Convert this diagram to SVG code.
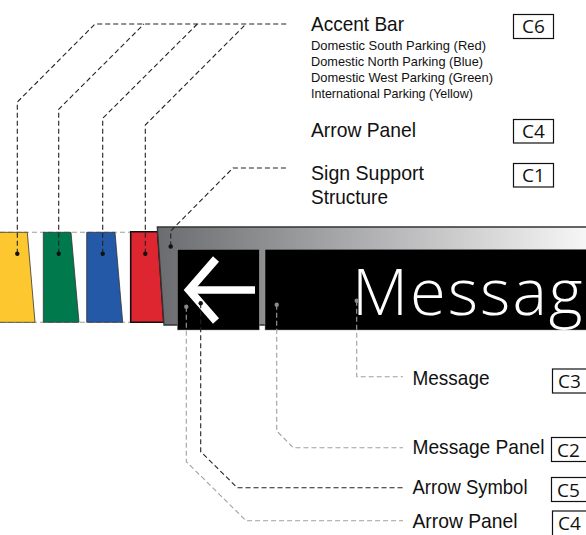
<svg xmlns="http://www.w3.org/2000/svg" width="586" height="535" viewBox="0 0 586 535">
<defs>
<linearGradient id="supGrad" gradientUnits="userSpaceOnUse" x1="157" y1="0" x2="586" y2="0">
<stop offset="0" stop-color="#6b6c6f"/>
<stop offset="1" stop-color="#f6f6f6"/>
</linearGradient>
<style>
.lbl{font-family:"Liberation Sans",Arial,sans-serif;font-size:21px;fill:#111}
.sub{font-family:"Liberation Sans",Arial,sans-serif;font-size:13px;fill:#111}
.code{font-family:"Open Sans","Liberation Sans",sans-serif;font-size:19px;fill:#111}
.box{fill:#fff;stroke:#111;stroke-width:1.2}
.lk{fill:none;stroke:#222;stroke-width:1.1;stroke-dasharray:5 3}
.lg{fill:none;stroke:#a0a0a0;stroke-width:1.1;stroke-dasharray:5 3}
.dk{fill:#111}
.dg{fill:#8a8a8a}
.bar{stroke:#333;stroke-width:0.8}
</style>
</defs>
<rect width="586" height="535" fill="#fff"/>

<g id="bar-guides">
<line x1="0" y1="232.3" x2="158" y2="232.3" class="lg"/>
<line x1="0" y1="322.3" x2="164" y2="322.3" class="lg"/>
</g>

<g id="accent-yellow"><polygon class="bar" fill="#fdc82f" points="-2,232.3 27.3,232.3 35,322.3 -2,322.3"/></g>
<g id="accent-green"><polygon class="bar" fill="#007a4d" points="43.3,232.3 71,232.3 79,322.3 43.3,322.3"/></g>
<g id="accent-blue"><polygon class="bar" fill="#2459a8" points="86.7,232.3 115,232.3 122.7,322.3 86.7,322.3"/></g>
<g id="accent-red"><polygon fill="#dd2630" stroke="#111" stroke-width="1.6" points="130.7,231.7 157.6,231.7 163.8,322.3 130.7,322.3"/></g>

<g id="sign-support">
<polygon points="157.3,227 592,227 592,325 164,325" fill="url(#supGrad)" stroke="#333" stroke-width="1.3"/>
</g>

<g id="arrow-panel">
<rect x="177.3" y="249.3" width="82" height="80.7" fill="#000" stroke="#9a9a9a" stroke-width="0.5"/>
</g>
<g id="arrow-symbol">
<line x1="190" y1="290" x2="255" y2="290" stroke="#fff" stroke-width="7.5"/>
<polyline points="216,259 189,290 216,321" fill="none" stroke="#fff" stroke-width="8" stroke-linejoin="miter"/>
</g>
<g id="message-panel">
<rect x="265" y="249.3" width="330" height="80.7" fill="#000" stroke="#9a9a9a" stroke-width="0.5"/>
</g>
<g id="message">
<text x="352" y="315" font-family="'Open Sans','Liberation Sans',sans-serif" font-weight="300" font-size="65" letter-spacing="2" fill="#fff">Message</text>
</g>

<g id="connectors">
<polyline class="lk" points="17.3,253.7 17.3,102 95,24 287,24"/>
<polyline class="lk" points="58.7,253.7 58.7,109.3 144,24"/>
<polyline class="lk" points="102.7,253.7 102.7,118.3 197.3,24"/>
<polyline class="lk" points="145.3,253.7 145.3,125 246,24"/>
<polyline class="lk" points="170.7,246.5 170.7,231 233,168 287,168"/>
<polyline class="lg" points="356.7,300.7 356.7,376.7 403,376.7"/>
<polyline class="lg" points="276.7,304.7 276.7,431 293.3,447.7 403,447.7"/>
<polyline class="lk" points="200.7,303.3 200.7,451.7 237.3,487.7 403,487.7"/>
<polyline class="lg" points="186.3,306.7 186.3,461.7 246,520.7 403,520.7"/>
<circle class="dk" cx="17.3" cy="253.7" r="2.2"/>
<circle class="dk" cx="58.7" cy="253.7" r="2.2"/>
<circle class="dk" cx="102.7" cy="253.7" r="2.2"/>
<circle class="dk" cx="145.3" cy="253.7" r="2.2"/>
<circle class="dk" cx="170.7" cy="246.5" r="2.2"/>
<circle class="dg" cx="356.7" cy="300.7" r="2.2"/>
<circle class="dg" cx="276.7" cy="304.7" r="2.2"/>
<circle class="dk" cx="200.7" cy="303.3" r="2.2"/>
<circle class="dg" cx="186.3" cy="306.7" r="2.2"/>
</g>

<g id="label-accent-bar">
<text class="lbl" x="311" y="31" textLength="93" lengthAdjust="spacingAndGlyphs">Accent Bar</text>
<text class="sub" x="311" y="50" textLength="175" lengthAdjust="spacingAndGlyphs">Domestic South Parking (Red)</text>
<text class="sub" x="311" y="66" textLength="172" lengthAdjust="spacingAndGlyphs">Domestic North Parking (Blue)</text>
<text class="sub" x="311" y="82" textLength="182" lengthAdjust="spacingAndGlyphs">Domestic West Parking (Green)</text>
<text class="sub" x="311" y="97.6" textLength="162" lengthAdjust="spacingAndGlyphs">International Parking (Yellow)</text>
<rect class="box" x="513.5" y="14.5" width="40" height="24"/>
<text class="code" x="533.5" y="33.3" text-anchor="middle">C6</text>
</g>
<g id="label-arrow-panel-top">
<text class="lbl" x="311" y="136.7" textLength="105" lengthAdjust="spacingAndGlyphs">Arrow Panel</text>
<rect class="box" x="513.5" y="119.5" width="40" height="23.5"/>
<text class="code" x="533.5" y="138.3" text-anchor="middle">C4</text>
</g>
<g id="label-sign-support">
<text class="lbl" x="311" y="180" textLength="113" lengthAdjust="spacingAndGlyphs">Sign Support</text>
<text class="lbl" x="311" y="204.3" textLength="77" lengthAdjust="spacingAndGlyphs">Structure</text>
<rect class="box" x="513.5" y="163.5" width="40" height="23.5"/>
<text class="code" x="533.5" y="182.3" text-anchor="middle">C1</text>
</g>
<g id="label-message">
<text class="lbl" x="412.5" y="385" textLength="77" lengthAdjust="spacingAndGlyphs">Message</text>
<rect class="box" x="552.5" y="369" width="40" height="24"/>
<text class="code" x="558" y="388">C3</text>
</g>
<g id="label-message-panel">
<text class="lbl" x="412.5" y="454" textLength="132" lengthAdjust="spacingAndGlyphs">Message Panel</text>
<rect class="box" x="551.5" y="437.5" width="40" height="24"/>
<text class="code" x="557" y="456.5">C2</text>
</g>
<g id="label-arrow-symbol">
<text class="lbl" x="412.5" y="494" textLength="115" lengthAdjust="spacingAndGlyphs">Arrow Symbol</text>
<rect class="box" x="551.5" y="477.5" width="40" height="24"/>
<text class="code" x="557" y="496.5">C5</text>
</g>
<g id="label-arrow-panel-bottom">
<text class="lbl" x="412.5" y="527.5" textLength="105" lengthAdjust="spacingAndGlyphs">Arrow Panel</text>
<rect class="box" x="552.5" y="511" width="40" height="26"/>
<text class="code" x="558" y="529.5">C4</text>
</g>
</svg>
